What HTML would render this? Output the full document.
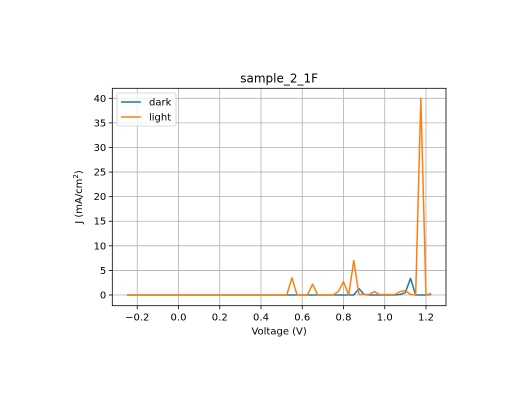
<!DOCTYPE html>
<html><head><meta charset="utf-8"><style>
body{margin:0;background:#fff;}
svg text{font-family:"DejaVu Sans","Liberation Sans",sans-serif;}
</style></head><body>
<svg id="chart" width="518" height="408" xmlns="http://www.w3.org/2000/svg">
<rect width="518" height="408" fill="#fff"/>
<g id="grid"></g><g id="series"></g><g id="axes"></g>
</svg>
<script>
const voltages=[-0.25,-0.225,-0.2,-0.175,-0.15,-0.125,-0.1,-0.075,-0.05,-0.025,0,0.025,0.05,0.075,0.1,0.125,0.15,0.175,0.2,0.225,0.25,0.275,0.3,0.325,0.35,0.375,0.4,0.425,0.45,0.475,0.5,0.525,0.55,0.575,0.6,0.625,0.65,0.675,0.7,0.725,0.75,0.775,0.8,0.825,0.85,0.875,0.9,0.925,0.95,0.975,1.0,1.025,1.05,1.075,1.1,1.125,1.15,1.175,1.2,1.225];
const darkValues=[0,0,0,0,0,0,0,0,0,0,0,0,0,0,0,0,0,0,0,0,0,0,0,0,0,0,0,0,0,0,0,0,0,0,0,0,0,0,0,0,0,0,0,0,0,1.3,0.1,0,0,0,0,0,0,0.1,0.5,3.4,0,0,0,0.1];
const lightValues=[0,0,0,0,0,0,0,0,0,0,0,0,0,0,0,0,0,0,0,0,0,0,0,0,0,0,0,0,0,0,0,0,3.5,0,0,0,2.2,0,0,0,0,0.7,2.7,0,7,0.1,0.1,0.1,0.7,0.1,0.1,0.1,0.1,0.7,0.9,0.1,0,40,0,0.3];
const xTicks=[-0.2,0,0.2,0.4,0.6,0.8,1.0,1.2];
const xTickLabels=["−0.2","0.0","0.2","0.4","0.6","0.8","1.0","1.2"];
const yTicks=[0,5,10,15,20,25,30,35,40];
const L=112.3,R=446,T=88.3,B=305.7;
const xs=v=>178.5+v*206.25;
const ys=j=>295-j*(196.7/40);
const NS="http://www.w3.org/2000/svg";
function mk(p,tag,attrs){const e=document.createElementNS(NS,tag);for(const k in attrs)e.setAttribute(k,attrs[k]);p.appendChild(e);return e;}
const grid=document.getElementById('grid'),axes=document.getElementById('axes'),ser=document.getElementById('series');
xTicks.forEach((t,i)=>{const x=xs(t);
 const g=mk(grid,'line',{x1:x,x2:x,y1:T,y2:B,stroke:'#b0b0b0','stroke-width':0.8});
 
 mk(axes,'line',{x1:x,x2:x,y1:B,y2:B+3.5,stroke:'#000','stroke-width':0.8});
 const tx=mk(axes,'text',{x:x,y:B+15,'font-size':10,'text-anchor':'middle'});tx.textContent=xTickLabels[i];
 });
yTicks.forEach(t=>{const y=ys(t);
 const g=mk(grid,'line',{x1:L,x2:R,y1:y,y2:y,stroke:'#b0b0b0','stroke-width':0.8});
 
 mk(axes,'line',{x1:L-3.5,x2:L,y1:y,y2:y,stroke:'#000','stroke-width':0.8});
 const tx=mk(axes,'text',{x:L-6,y:y+3.5,'font-size':10,'text-anchor':'end'});tx.textContent=t;
 });
function line(vals,color,name){const d=vals.map((v,i)=>(i?'L':'M')+xs(voltages[i]).toFixed(2)+','+ys(v).toFixed(2)).join('');
 const p=mk(ser,'path',{d:d,fill:'none',stroke:color,'stroke-width':1.5,'stroke-linejoin':'round'});
 }
line(darkValues,'#1f77b4','dark-line');
line(lightValues,'#ff7f0e','light-line');
const fr=mk(axes,'rect',{x:L,y:T,width:R-L,height:B-T,fill:'none',stroke:'#000','stroke-width':0.8});

const ti=mk(axes,'text',{x:(L+R)/2,y:T-6,'font-size':12,'text-anchor':'middle'});ti.textContent='sample_2_1F';

const xl=mk(axes,'text',{x:(L+R)/2,y:B+29,'font-size':10,'text-anchor':'middle'});xl.textContent='Voltage (V)';

const yl=mk(axes,'text',{x:0,y:0,'font-size':10,'text-anchor':'middle',transform:'translate(82,'+((T+B)/2)+') rotate(-90)'});
yl.innerHTML='J (mA/cm<tspan baseline-shift="super" font-size="7">2</tspan>)';

const lg=mk(axes,'g',{});
mk(lg,'rect',{x:117,y:93,width:59,height:33,rx:2,fill:'#fff','fill-opacity':0.8,stroke:'#d0d0d0','stroke-width':0.8});
[['dark','#1f77b4'],['light','#ff7f0e']].forEach((e,i)=>{const y=102+i*15;
 const en=mk(lg,'g',{});
 mk(en,'line',{x1:121,x2:141,y1:y,y2:y,stroke:e[1],'stroke-width':1.5});
 const t=mk(en,'text',{x:149,y:y+3.5,'font-size':10});t.textContent=e[0];});
</script>
</body></html>
